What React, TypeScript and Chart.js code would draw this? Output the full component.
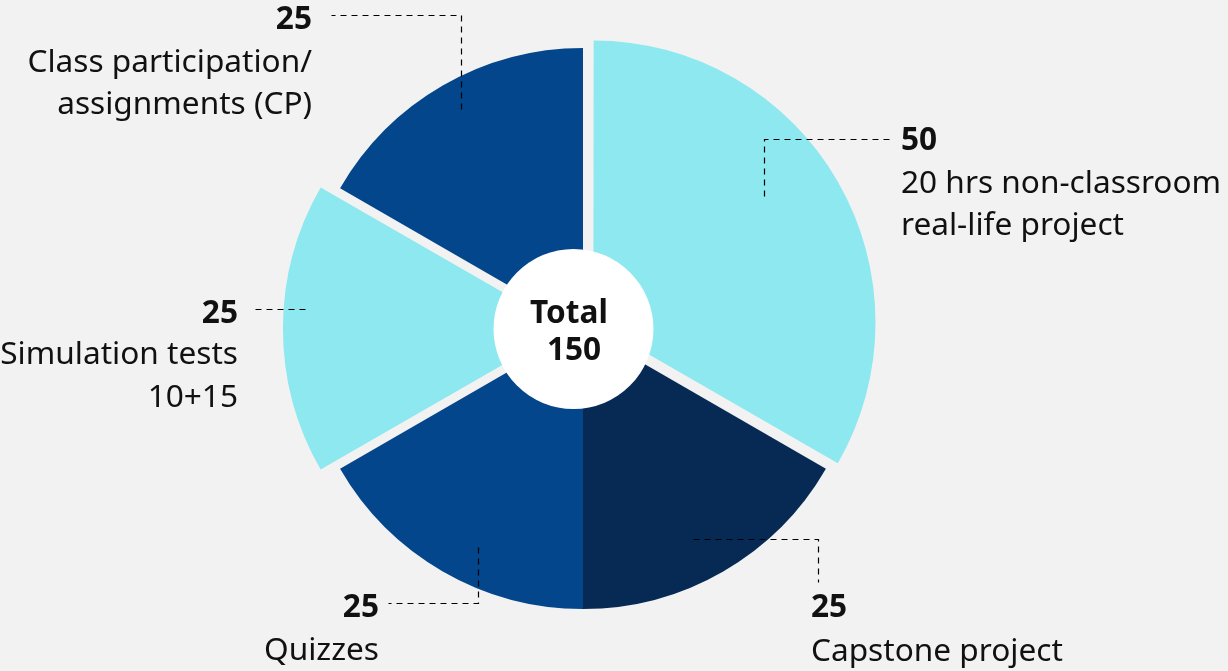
import React, { useEffect, useRef } from "react";
import { Chart, registerables } from "chart.js";

Chart.register(...registerables);

// ---- data ----
const categories = [
  "20 hrs non-classroom real-life project",
  "Capstone project",
  "Quizzes",
  "Simulation tests 10+15",
  "Class participation/ assignments (CP)",
];
const values = [50, 25, 25, 25, 25];
const labelLines = [
  ["20 hrs non-classroom", "real-life project"],
  ["Capstone project"],
  ["Quizzes"],
  ["Simulation tests", "10+15"],
  ["Class participation/", "assignments (CP)"],
];
const centerTitle = "Total";
const centerValue = String(values.reduce((a, b) => a + b, 0));

// ---- styles ----
const colors = ["#8de8f0", "#072a55", "#03468b", "#8de8f0", "#03468b"];
const sliceOffsets = [48, 0, 0, 69, 0];
const BG = "#f2f2f2";
const TEXT = "#111111";
const FONT = "'Noto Sans', 'Open Sans', sans-serif";
const FONT_SIZE = 31.6;

// ---- callout layout (annotation positions) ----
type Callout = { path: number[][]; align: "left" | "right"; x: number; numY: number; lineY: number[] };
const callouts: Callout[] = [
  { path: [[764, 196], [764, 139], [890, 139]], align: "left", x: 901, numY: 150, lineY: [193, 235] },
  { path: [[693, 539], [818, 539], [818, 582]], align: "left", x: 811, numY: 617, lineY: [661] },
  { path: [[478, 547], [478, 603], [388, 603]], align: "right", x: 379, numY: 617, lineY: [660] },
  { path: [[305, 309], [250, 309]], align: "right", x: 238, numY: 323, lineY: [364, 407] },
  { path: [[461, 109], [461, 15], [331, 15]], align: "right", x: 312, numY: 29, lineY: [72, 114] },
];

const bgPlugin = {
  id: "bg",
  beforeDraw(chart: any) {
    const { ctx, width, height } = chart;
    ctx.save();
    ctx.fillStyle = BG;
    ctx.fillRect(0, 0, width, height);
    ctx.restore();
  },
};

const overlayPlugin = {
  id: "overlay",
  afterDatasetsDraw(chart: any) {
    const { ctx } = chart;
    const arc = chart.getDatasetMeta(0).data[0];
    const cx = arc.x;
    const cy = arc.y;
    ctx.save();
    // center white disc
    ctx.fillStyle = "#ffffff";
    ctx.beginPath();
    ctx.arc(cx - 9.5, cy + 0.5, 80, 0, Math.PI * 2);
    ctx.fill();
    ctx.fillStyle = TEXT;
    ctx.font = `bold ${FONT_SIZE}px ${FONT}`;
    ctx.textAlign = "center";
    ctx.textBaseline = "alphabetic";
    ctx.fillText(centerTitle, cx - 14, cy - 5.5);
    ctx.fillText(centerValue, cx - 9, cy + 31.5);

    // callouts
    callouts.forEach((c, i) => {
      ctx.save();
      ctx.strokeStyle = "#000000";
      ctx.lineWidth = 1.2;
      ctx.setLineDash([6, 5]);
      ctx.beginPath();
      c.path.forEach((p, j) => {
        const x = Math.round(p[0]) + 0.5;
        const y = Math.round(p[1]) + 0.5;
        if (j === 0) ctx.moveTo(x, y);
        else ctx.lineTo(x, y);
      });
      ctx.stroke();
      ctx.restore();

      ctx.fillStyle = TEXT;
      ctx.textAlign = c.align;
      ctx.textBaseline = "alphabetic";
      ctx.font = `bold ${FONT_SIZE}px ${FONT}`;
      ctx.fillText(String(values[i]), c.x, c.numY);
      ctx.font = `${FONT_SIZE}px ${FONT}`;
      labelLines[i].forEach((line, k) => {
        ctx.fillText(line, c.x, c.lineY[k]);
      });
    });
    ctx.restore();
  },
};

export default function App() {
  const ref = useRef<HTMLCanvasElement | null>(null);
  useEffect(() => {
    if (!ref.current) return;
    const chart = new Chart(ref.current, {
      type: "pie",
      data: {
        labels: categories,
        datasets: [
          {
            data: values,
            backgroundColor: colors,
            borderWidth: 0,
            offset: sliceOffsets,
            hoverOffset: 0,
          } as any,
        ],
      },
      options: {
        responsive: false,
        animation: false,
        events: [],
        radius: 280.5,
        layout: { padding: { left: 0, right: 62, top: 0, bottom: 14 } },
        plugins: {
          legend: { display: false },
          tooltip: { enabled: false },
        },
      } as any,
      plugins: [bgPlugin, overlayPlugin],
    });
    return () => chart.destroy();
  }, []);
  return (
    <div style={{ position: "absolute", left: 0, top: 0, width: 1228, height: 671, background: BG }}>
      <canvas ref={ref} width={1228} height={671} style={{ display: "block" }} />
    </div>
  );
}
